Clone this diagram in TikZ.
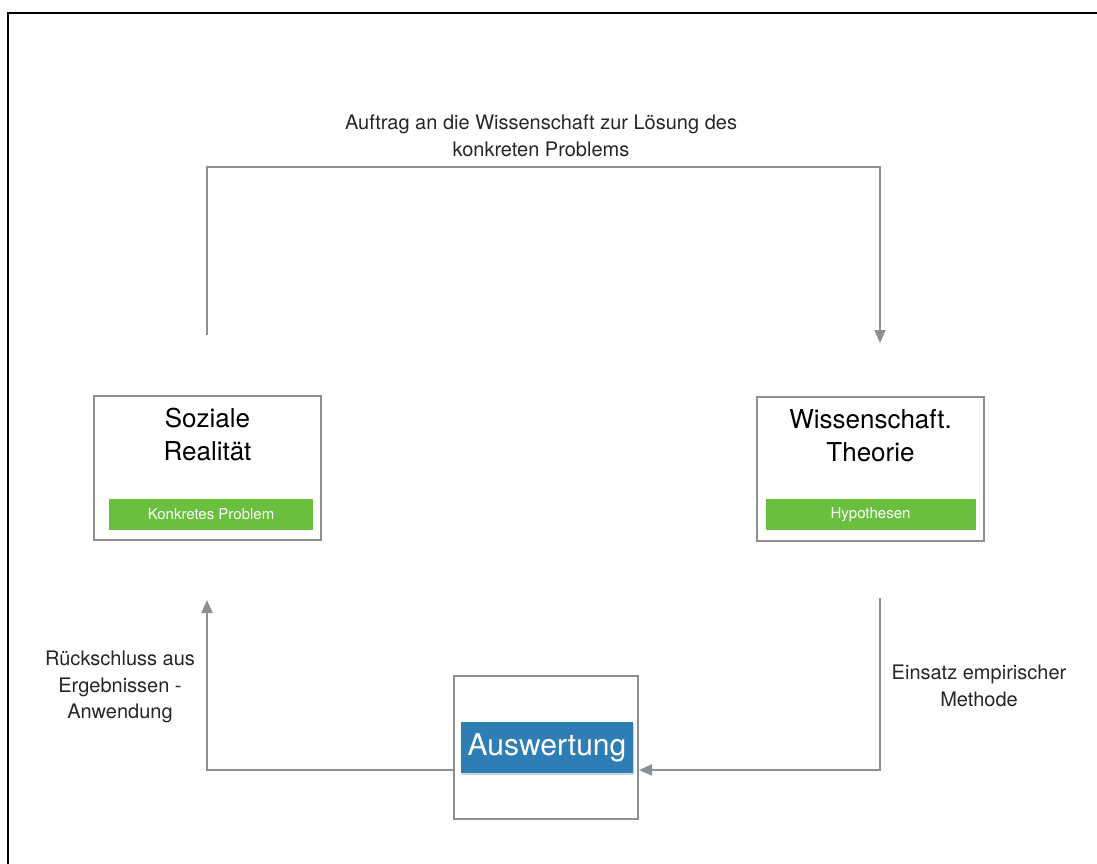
\documentclass[tikz,border=0pt]{standalone}
\usepackage{fontspec}
\setmainfont{TeX Gyre Heros}
\usetikzlibrary{positioning, arrows.meta, shadows}
\definecolor{liniengrau}{HTML}{8C9094}
\definecolor{balkengruen}{HTML}{6BBF3F}
\definecolor{auswblau}{HTML}{2E7DB4}
\tikzset{kasten/.style={draw=liniengrau, line width=2pt, minimum width=227pt, minimum height=144pt, inner sep=0pt}}
\tikzset{balken/.style={fill=balkengruen, text=white, minimum height=31pt, inner sep=0pt, font=\fontsize{15}{18}\selectfont}}
\tikzset{pfeil/.style={draw=liniengrau, line width=2pt, -{Triangle[length=13pt,width=11pt]}}}
\tikzset{titel/.style={align=center, font=\fontsize{26}{33}\selectfont}}
\tikzset{beschr/.style={align=center, text=black!85, font=\fontsize{20}{26.5}\selectfont}}

\begin{document}
\begin{tikzpicture}[
            x = 1pt, y = -1pt
        ]
            \useasboundingbox (0,0) rectangle (1097,864);
            \draw[line width=2.5pt] (8,864) -- (8,13) -- (1097,13);

            \node[kasten](soz) at (207.5,468) {};
            \node[kasten](theo) at (870.5,468.5) {};
            \node[kasten, minimum width=184pt, minimum height=143pt](ausw) at (546,747.5) {};

            \node[titel, below= 10pt of soz.north] (sozT) {Soziale\\Realität};
            \node[titel, below= 10pt of theo.north] (theoT) {Wissenschaft.\\Theorie};
            \node[balken, minimum width=204pt, above= 11pt of soz.south, xshift=3.5pt] (sozB) {Konkretes Problem};
            \node[balken, minimum width=210pt, above= 11pt of theo.south] (theoB) {Hypothesen};
            \node[fill=auswblau, text=white, minimum width=172pt, minimum height=51pt, inner sep=0pt,
                  font=\fontsize{30}{34}\selectfont,
                  drop shadow={shadow xshift=1pt, shadow yshift=-2pt, opacity=0.35}] (auswT) at (547,747.5) {Auswertung};

            \coordinate (sozOben) at (207,335);
            \coordinate (mitte) at (543,167);
            \coordinate (theoOben) at (880,343);
            \coordinate (theoUnten) at (880,598);
            \coordinate (sozUnten) at (207,600);

            \draw[pfeil] (sozOben) |- (mitte) -| (theoOben);
            \draw[pfeil] (theoUnten) |- ([yshift=-22.5pt]ausw.east);
            \draw[pfeil] ([yshift=-22.5pt]ausw.west) -| (sozUnten);

            \node[beschr] (auftrag) at (541,136) {Auftrag an die Wissenschaft zur Lösung des\\konkreten Problems};
            \node[beschr] (rueck) at (120,687) {Rückschluss aus\\Ergebnissen -\\Anwendung};
            \node[beschr] (einsatz) at (979,686) {Einsatz empirischer\\Methode};
        \end{tikzpicture}
\end{document}
